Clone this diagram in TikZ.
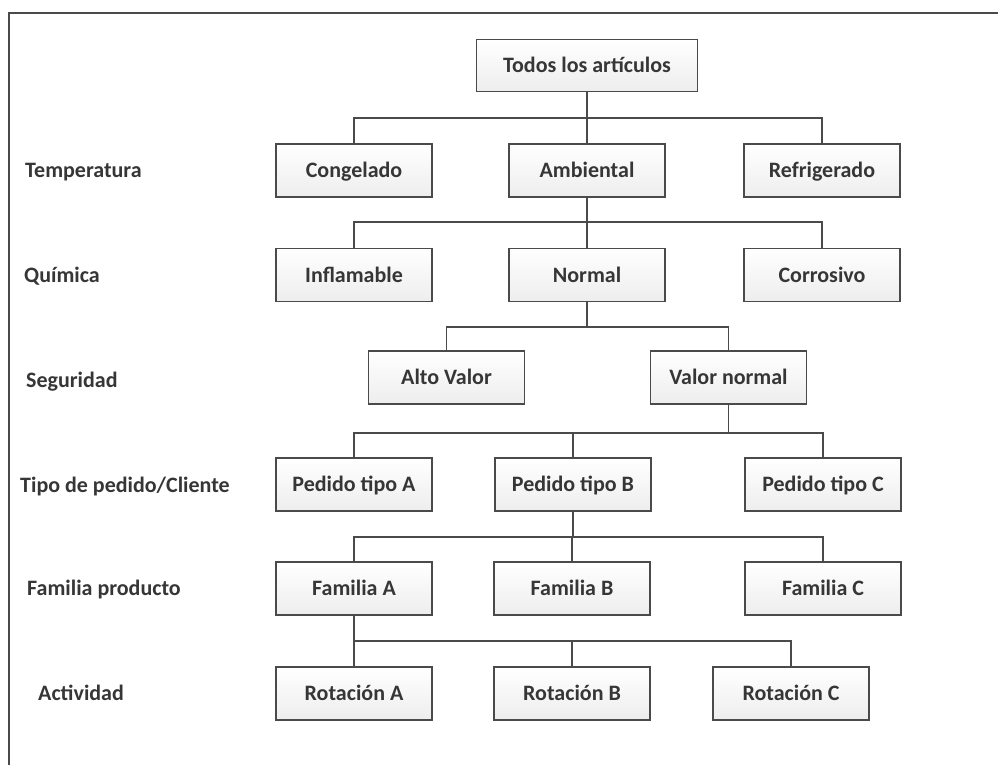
\documentclass[tikz,border=0pt]{standalone}
\usepackage{fontspec}
\setmainfont{Carlito}
\definecolor{ink}{HTML}{363636}
\definecolor{edge}{HTML}{4A4A4A}
\tikzset{
  txt/.style={font=\fontsize{22}{24}\selectfont\bfseries, text=ink, text height=14pt, text depth=0pt},
  box/.style={txt, draw=edge, line width=1.8pt, top color=white, bottom color=gray!14,
    minimum width=156pt, minimum height=53pt, inner sep=0pt},
  lvl/.style={txt, anchor=west, inner sep=0pt},
  conn/.style={draw=edge, line width=1.8pt}
}
\begin{document}
\begin{tikzpicture}[x=1pt,y=-1pt]
\useasboundingbox (0,0) rectangle (998,765);
\fill[white] (0,0) rectangle (998,765);
% frame
\draw[edge, line width=2pt] (9,765) -- (9,13) -- (998,13);

% bus coordinates
\coordinate (b1) at (0,118);
\coordinate (b2) at (0,222);
\coordinate (b3) at (0,327);
\coordinate (b4) at (0,433);
\coordinate (b5) at (0,537);
\coordinate (b6) at (0,641);

% nodes
\node[box, minimum width=221pt, minimum height=52pt] (top) at (587,65.5) {Todos los artículos};
\node[box] (cong) at (354,170.5) {Congelado};
\node[box] (amb) at (587,170.5) {Ambiental};
\node[box] (refr) at (822,170.5) {Refrigerado};
\node[box] (infl) at (354,275) {Inflamable};
\node[box] (norm) at (587,275) {Normal};
\node[box] (corr) at (822,275) {Corrosivo};
\node[box] (alto) at (446.5,377.5) {Alto Valor};
\node[box] (vnor) at (728.5,377.5) {Valor normal};
\node[box] (pa) at (354,484.5) {Pedido tipo A};
\node[box] (pb) at (573,484.5) {Pedido tipo B};
\node[box] (pc) at (823,484.5) {Pedido tipo C};
\node[box] (fa) at (354,588.5) {Familia A};
\node[box] (fb) at (572,588.5) {Familia B};
\node[box] (fc) at (823,588.5) {Familia C};
\node[box] (ra) at (354,693.5) {Rotación A};
\node[box] (rb) at (572,693.5) {Rotación B};
\node[box] (rc) at (791,693.5) {Rotación C};

% level labels
\node[lvl] (l1) at (25,170) {Temperatura};
\node[lvl] (l2) at (24,275) {Química};
\node[lvl] (l3) at (26,380) {Seguridad};
\node[lvl] (l4) at (20,485) {Tipo de pedido/Cliente};
\node[lvl] (l5) at (27,588) {Familia producto};
\node[lvl] (l6) at (38,693) {Actividad};

% connectors
\draw[conn] (top.south) -- (amb.north);
\draw[conn] (cong.north) -- (cong.north |- b1) -- (refr.north |- b1) -- (refr.north);

\draw[conn] (amb.south) -- (norm.north);
\draw[conn] (infl.north) -- (infl.north |- b2) -- (corr.north |- b2) -- (corr.north);

\draw[conn] (norm.south) -- (norm.south |- b3);
\draw[conn] (alto.north) -- (alto.north |- b3) -- (vnor.north |- b3) -- (vnor.north);

\draw[conn] (vnor.south) -- (vnor.south |- b4);
\draw[conn] (pa.north) -- (pa.north |- b4) -- (pc.north |- b4) -- (pc.north);
\draw[conn] (pb.north) -- (pb.north |- b4);

\draw[conn] (pb.south) -- (pb.south |- b5);
\draw[conn] (fa.north) -- (fa.north |- b5) -- (fc.north |- b5) -- (fc.north);
\draw[conn] (fb.north) -- (fb.north |- b5);

\draw[conn] (fa.south) -- (fa.south |- b6);
\draw[conn] (ra.north) -- (ra.north |- b6) -- (rc.north |- b6) -- (rc.north);
\draw[conn] (rb.north) -- (rb.north |- b6);
\end{tikzpicture}
\end{document}
